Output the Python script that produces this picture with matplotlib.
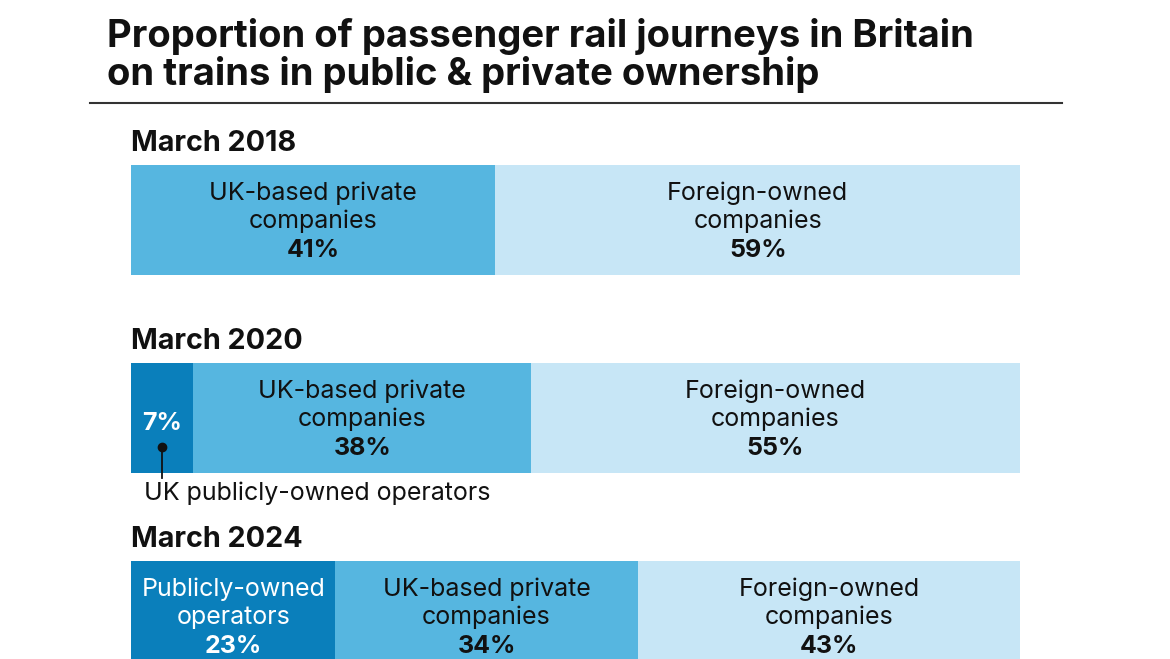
import matplotlib.pyplot as plt
import numpy as np

plt.rcParams['font.family'] = ['Inter', 'DejaVu Sans']

title_lines = ["Proportion of passenger rail journeys in Britain",
               "on trains in public & private ownership"]
periods = ["March 2018", "March 2020", "March 2024"]
public = [0, 7, 23]
uk_private = [41, 38, 34]
foreign = [59, 55, 43]
public_labels = ["", "", "Publicly-owned\noperators"]
uk_label = "UK-based private\ncompanies"
foreign_label = "Foreign-owned\ncompanies"
callout = "UK publicly-owned operators"

c_pub = "#0a7fbb"
c_uk = "#56b6e0"
c_for = "#c7e6f6"
c_txt = "#111111"

W, H = 1170, 659
fig = plt.figure(figsize=(W / 100, H / 100), dpi=100)
fig.patch.set_facecolor("white")

# axes: x in percent mapped to pixels 131..1020, y in row units
x0, x1 = 131, 1020
ax = fig.add_axes([x0 / W, 0, (x1 - x0) / W, 1])
row_px0, row_step = 220, 198
ax.set_ylim((H - row_px0) / row_step, -row_px0 / row_step)
ax.set_xlim(0, 100)
ax.axis("off")
bh = 110 / row_step


def px(p):
    return p / row_step


ys = np.arange(len(periods))
ax.barh(ys, public, height=bh, color=c_pub, linewidth=0)
ax.barh(ys, uk_private, left=public, height=bh, color=c_uk, linewidth=0)
left2 = np.array(public) + np.array(uk_private)
ax.barh(ys, foreign, left=left2, height=bh, color=c_for, linewidth=0)

fs = 18
line_offsets = [-20, 8]
pct_offset = 37
for i, y in enumerate(ys):
    ax.text(0, y - px(69), periods[i], fontsize=20.7, fontweight="bold",
            ha="left", va="baseline", color=c_txt)
    segs = [(0, public[i], public_labels[i], "white"),
            (public[i], uk_private[i], uk_label, c_txt),
            (left2[i], foreign[i], foreign_label, c_txt)]
    for (l, v, lab, tc) in segs:
        if v == 0:
            continue
        cx = l + v / 2
        if lab:
            for k, ln in enumerate(lab.split("\n")):
                ax.text(cx, y + px(line_offsets[k]), ln, fontsize=fs, ha="center",
                        va="baseline", color=tc)
            ax.text(cx, y + px(pct_offset), f"{v}%", fontsize=fs, fontweight="bold",
                    ha="center", va="baseline", color=tc)
        else:
            ax.text(cx, y + px(12), f"{v}%", fontsize=fs, fontweight="bold", ha="center",
                    va="baseline", color=tc)
            ax.plot([cx, cx], [y + px(29), y + px(60)], color=c_txt, lw=1.3)
            ax.plot([cx], [y + px(29)], "o", color=c_txt, ms=6)
            ax.text(l + 1.45, y + px(82), callout, fontsize=fs, ha="left",
                    va="baseline", color=c_txt)

for k, (t, base) in enumerate(zip(title_lines, [47, 85])):
    fig.text(107 / W, 1 - base / H, t, fontsize=27.5, fontweight="bold", ha="left",
             va="baseline", color=c_txt)
fig.add_artist(plt.Line2D([90 / W, 1062 / W], [1 - 103 / H, 1 - 103 / H], color="#333333", lw=1.5))

fig.savefig("out.png", dpi=100, facecolor="white")
